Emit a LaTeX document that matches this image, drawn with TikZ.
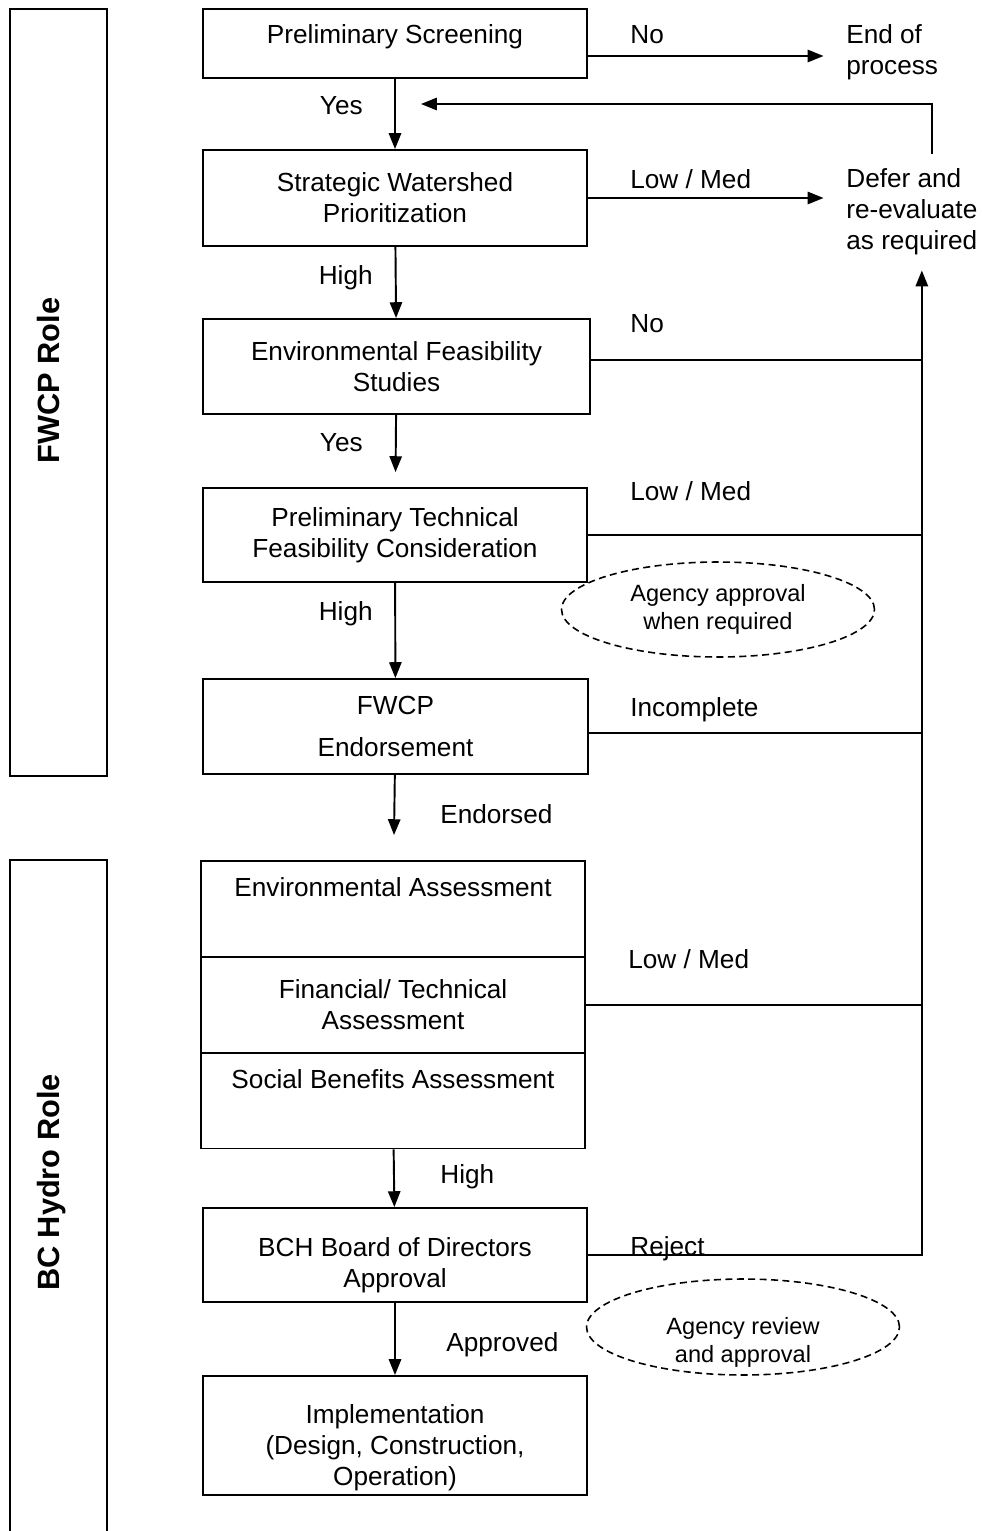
\documentclass[tikz,border=0pt]{standalone}
\usepackage{fontspec}
\setmainfont{Liberation Sans}
\usetikzlibrary{arrows.meta,shapes.geometric}

\begin{document}
\begin{tikzpicture}[x=0.02cm, y=-0.02cm,
	every node/.style={font=\fontsize{14.9pt}{17.6pt}\selectfont},
	stage/.style={draw, line width=1.1pt, align=center, minimum width=7.68cm, inner sep=2pt},
	role/.style={draw, line width=1.1pt, rotate=90, minimum height=1.94cm, text depth=12pt, font=\fontsize{17.5pt}{20pt}\selectfont\bfseries},
	agency/.style={draw, dash pattern=on 4pt off 2.5pt, line width=0.9pt, ellipse, minimum width=6.26cm, align=center, inner sep=0pt, font=\fontsize{13.4pt}{15.9pt}\selectfont},
	tag/.style={inner sep=0pt, text height=14.1pt, text depth=3.1pt},
	outcome/.style={inner xsep=0pt, inner ysep=0.3cm, align=left, anchor=west},
	arr/.style={line width=1.1pt, -{Triangle[length=9pt,width=7pt]}},
	bus/.style={line width=1.1pt}]
	\useasboundingbox (0,0) rectangle (982,1531);

	\node[role, minimum width=15.34cm] (fwcprole) at (58.5,392.5) {\hspace*{0.48cm}FWCP Role};
	\node[role, minimum width=13.7cm] (bchrole) at (58.5,1202.5) {\hspace*{0.8cm}BC Hydro Role};

	\node[stage, minimum height=1.38cm, text height=11pt, text depth=11pt] (ps) at (395,43.5) {Preliminary Screening};
		\node[stage, minimum height=1.92cm] (swp) at (395,198) {Strategic Watershed\\Prioritization};
		\node[stage, minimum width=7.74cm, minimum height=1.9cm] (efs) at (396.5,366.5) {Environmental Feasibility\\Studies};
		\node[stage, minimum height=1.88cm] (ptf) at (395,535) {Preliminary Technical\\Feasibility Consideration};
		\node[stage, minimum width=7.7cm, minimum height=1.9cm] (fwcp) at (395.5,726.5) {FWCP\\[0.22cm]Endorsement};

	\node[stage, minimum height=1.92cm, text height=11pt, text depth=25pt] (ea) at (393,909) {Environmental Assessment};
		\node[stage, minimum height=1.92cm] (fta) at (393,1005) {Financial/ Technical\\Assessment};
		\node[stage, minimum height=1.92cm, text height=11pt, text depth=25pt] (sba) at (393,1100.5) {Social Benefits Assessment};

	\node[stage, minimum height=1.88cm] (bch) at (395,1255) {\rule{0pt}{22.2pt}BCH Board of Directors\\Approval};
		\node[stage, minimum height=2.38cm, inner ysep=0pt] (impl) at (395,1435.5) {\rule{0pt}{24.5pt}Implementation\\(Design, Construction,\\Operation)};

	\node[outcome] (eop) at (846,52) {End of\\process};
	\node[outcome] (dfr) at (846,212) {Defer and\\re-evaluate\\as required};

	\node[agency, minimum height=1.9cm] (appr) at (718,609.5) {Agency approval\\when required};
	\node[agency, minimum height=1.92cm, label={[name=revtext, align=center, font=\fontsize{13.4pt}{15.9pt}\selectfont, yshift=-0.3cm]center:Agency review\\and approval}] (rev) at (743,1327) {};

	\node[tag, anchor=east] (yes1) at (363,105) {Yes};
	\node[tag, anchor=east] (high1) at (373,275) {High};
	\node[tag, anchor=east] (yes2) at (363,442) {Yes};
	\node[tag, anchor=east] (high2) at (373,611) {High};
	\node[tag, anchor=west] (endorsed) at (440,814) {Endorsed};
	\node[tag, anchor=west] (high3) at (440,1174) {High};
	\node[tag, anchor=west] (approved) at (446,1342) {Approved};

	\node[tag, anchor=west] (no1) at (630,34) {No};
	\node[tag, anchor=west] (low1) at (630,179) {Low / Med};
	\node[tag, anchor=west] (no2) at (630,323) {No};
	\node[tag, anchor=west] (low2) at (630,491) {Low / Med};
	\node[tag, anchor=west] (incomplete) at (630,707) {Incomplete};
	\node[tag, anchor=west] (low3) at (628,959) {Low / Med};
	\node[tag, anchor=west] (reject) at (630,1246) {Reject};

	\draw[arr] (ps) -- (swp);
	\draw[arr] (swp) -- (efs);
	\draw[arr, shorten >=0.3cm] (efs) -- (ptf);
	\draw[arr] (ptf) -- (fwcp);
	\draw[arr, shorten >=0.5cm] (fwcp) -- (ea);
	\draw[arr] (sba) -- (bch);
	\draw[arr] (bch) -- (impl);

	\coordinate (ps-out) at ([yshift=-0.25cm]ps.east);
	\draw[arr, shorten >=0.45cm] (ps-out) -- (ps-out -| eop.west);
	\draw[arr, shorten >=0.45cm] (swp.east) -- (swp.east -| dfr.west);

	\coordinate (loop) at ([xshift=0.4cm]dfr.north);
	\coordinate (fb-end) at (421,104);
	\draw[arr] (loop) |- (fb-end);

	\coordinate (bus-top) at ([xshift=0.2cm]dfr.south);
	\draw[arr] (bch.east) -| (bus-top);
	\coordinate (efs-out) at ([yshift=0.13cm]efs.east);
	\draw[bus] (efs-out) -- (efs-out -| bus-top);
	\draw[bus] (ptf.east) -- (ptf.east -| bus-top);
	\coordinate (fwcp-out) at ([yshift=-0.13cm]fwcp.east);
	\draw[bus] (fwcp-out) -- (fwcp-out -| bus-top);
	\draw[bus] (fta.east) -- (fta.east -| bus-top);
\end{tikzpicture}
\end{document}
